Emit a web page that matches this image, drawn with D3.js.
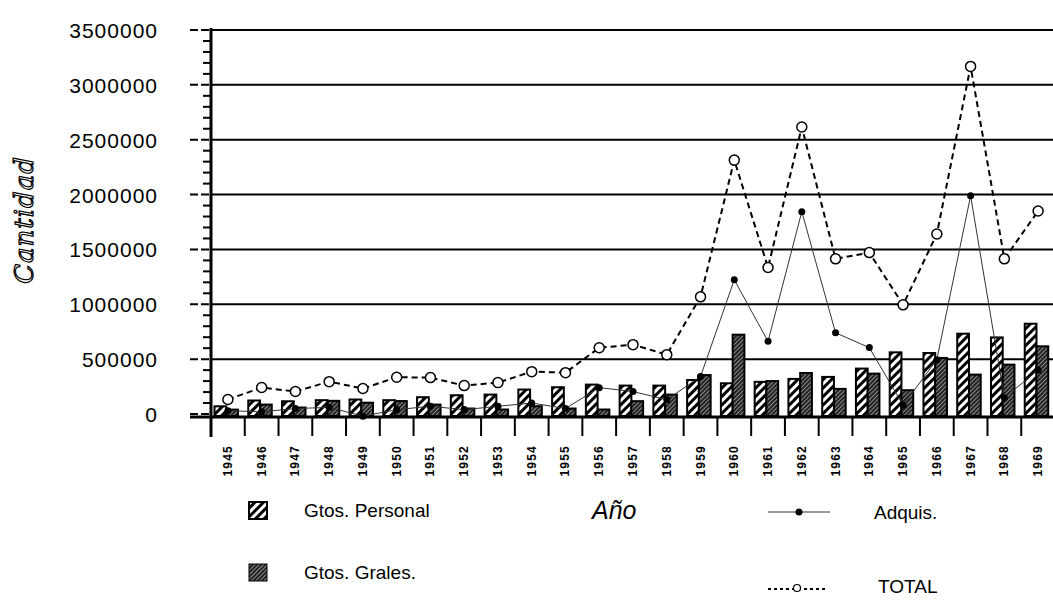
<!DOCTYPE html>
<meta charset="utf-8">
<style>
body { margin: 0; background: #fff; }
text { font-family: "Liberation Sans", Arial, sans-serif; fill: #000; }
.tick text { font-size: 21px; letter-spacing: 1px; }
</style>
<svg width="1053" height="604"></svg>
<script src="https://d3js.org/d3.v7.min.js"></script>
<script>

var years = ["1945","1946","1947","1948","1949","1950","1951","1952","1953","1954","1955","1956","1957",
  "1958","1959","1960","1961","1962","1963","1964","1965","1966","1967","1968","1969"];

var personal = [70000,123000,116000,126000,132000,126000,153000,171000,177000,223000,244000,268000,259000,
  259000,310000,280000,293000,320000,338000,414000,562000,556000,732000,698000,823000];

var grales = [40000,86000,59000,120000,103000,118000,86000,50000,41000,71000,50000,41000,117000,
  177000,355000,723000,300000,374000,229000,368000,217000,511000,359000,450000,617000];

var adquis = [30000,20000,50000,60000,-20000,40000,70000,40000,70000,100000,50000,240000,205000,
  130000,341000,1223000,662000,1844000,740000,605000,80000,495000,1989000,148000,400000];

var total = [132000,241000,205000,295000,232000,335000,332000,259000,286000,386000,377000,604000,632000,
  541000,1068000,2314000,1335000,2616000,1414000,1471000,995000,1641000,3168000,1414000,1850000];

var yTicks = [0,500000,1000000,1500000,2000000,2500000,3000000,3500000];

var svg = d3.select("svg");

var x = d3.scaleBand().domain(years).range([211, 1055]);
var y = d3.scaleLinear().domain([0, 3500000]).range([414, 30]);
var xSub = d3.scaleBand().domain(["p","g"]).range([3.5, 27]);

var defs = svg.append("defs");
var hatch = defs.append("pattern")
    .attr("id", "hatch")
    .attr("patternUnits", "userSpaceOnUse")
    .attr("width", 6).attr("height", 6)
    .attr("patternTransform", "rotate(45)");
hatch.append("rect").attr("width", 6).attr("height", 6).attr("fill", "#fff");
hatch.append("rect").attr("width", 3).attr("height", 6).attr("fill", "#000");

var dark = defs.append("pattern")
    .attr("id", "dark")
    .attr("patternUnits", "userSpaceOnUse")
    .attr("width", 3).attr("height", 3)
    .attr("patternTransform", "rotate(45)");
dark.append("rect").attr("width", 3).attr("height", 3).attr("fill", "#222");
dark.append("rect").attr("width", 1).attr("height", 3).attr("fill", "#8a8a8a");

// grid lines
svg.append("g")
  .selectAll("line")
  .data(yTicks.filter(function(d) { return d > 0; }))
  .enter().append("line")
    .attr("x1", 211).attr("x2", 1053)
    .attr("y1", function(d) { return y(d); })
    .attr("y2", function(d) { return y(d); })
    .attr("stroke", "#000")
    .attr("stroke-width", 2);

// minor ticks on y axis
svg.append("g")
  .selectAll("line")
  .data(d3.range(0, 3500001, 100000))
  .enter().append("line")
    .attr("x1", function(d) { return d % 500000 == 0 ? 190 : 203; })
    .attr("x2", 211)
    .attr("y1", function(d) { return y(d); })
    .attr("y2", function(d) { return y(d); })
    .attr("stroke", "#000")
    .attr("stroke-width", 2)
    .attr("stroke-dasharray", function(d) { return d % 500000 == 0 ? "8,3" : null; });

var yAxis = svg.append("g")
    .attr("transform", "translate(158,0)")
    .call(d3.axisLeft(y).tickValues(yTicks).tickSize(0).tickPadding(0).tickFormat(d3.format("d")));
yAxis.select(".domain").remove();
yAxis.selectAll("text").attr("dy", "0.36em");

// bars
var groups = svg.append("g")
  .selectAll("g")
  .data(years)
  .enter().append("g")
    .attr("transform", function(d) { return "translate(" + x(d) + ",0)"; });

groups.append("rect")
    .attr("x", xSub("p"))
    .attr("width", xSub.bandwidth())
    .attr("y", function(d, i) { return y(personal[i]); })
    .attr("height", function(d, i) { return y(0) - y(personal[i]) + 2; })
    .attr("fill", "url(#hatch)")
    .attr("stroke", "#000")
    .attr("stroke-width", 2);

groups.append("rect")
    .attr("x", xSub("g"))
    .attr("width", xSub.bandwidth())
    .attr("y", function(d, i) { return y(grales[i]); })
    .attr("height", function(d, i) { return y(0) - y(grales[i]) + 2; })
    .attr("fill", "url(#dark)")
    .attr("stroke", "#000")
    .attr("stroke-width", 2);

// axes lines
svg.append("line")
    .attr("x1", 211).attr("x2", 211).attr("y1", 28).attr("y2", 437)
    .attr("stroke", "#000").attr("stroke-width", 3);
svg.append("line")
    .attr("x1", 190).attr("x2", 1053).attr("y1", 417).attr("y2", 417)
    .attr("stroke", "#000").attr("stroke-width", 3);

svg.append("g")
  .selectAll("line")
  .data(years.slice(1))
  .enter().append("line")
    .attr("x1", function(d) { return x(d); })
    .attr("x2", function(d) { return x(d); })
    .attr("y1", 417).attr("y2", 436)
    .attr("stroke", "#000").attr("stroke-width", 2);

svg.append("g")
  .selectAll("text")
  .data(years)
  .enter().append("text")
    .attr("transform", function(d) { return "translate(" + (x(d) + x.bandwidth() / 2 + 4) + ",445) rotate(-90)"; })
    .attr("text-anchor", "end")
    .style("font-size", "12px")
    .style("font-weight", "bold")
    .style("letter-spacing", "1.2px")
    .text(function(d) { return d; });

// lines
var cx = function(i) { return x(years[i]) + x.bandwidth() / 2; };

var adqLine = d3.line().x(function(d, i) { return cx(i); }).y(function(d) { return y(d); });
svg.append("path")
    .attr("d", adqLine(adquis))
    .attr("fill", "none")
    .attr("stroke", "#333")
    .attr("stroke-width", 1);
svg.append("g")
  .selectAll("circle")
  .data(adquis)
  .enter().append("circle")
    .attr("cx", function(d, i) { return cx(i); })
    .attr("cy", function(d) { return y(d); })
    .attr("r", 3.5)
    .attr("fill", "#000");

svg.append("path")
    .attr("d", adqLine(total))
    .attr("fill", "none")
    .attr("stroke", "#000")
    .attr("stroke-width", 2)
    .attr("stroke-dasharray", "6,4");
svg.append("g")
  .selectAll("circle")
  .data(total)
  .enter().append("circle")
    .attr("cx", function(d, i) { return cx(i); })
    .attr("cy", function(d) { return y(d); })
    .attr("r", 5)
    .attr("fill", "#fff")
    .attr("stroke", "#000")
    .attr("stroke-width", 1.5);

// axis titles
svg.append("text")
    .attr("transform", "translate(33,220) rotate(-90)")
    .attr("text-anchor", "middle")
    .style("font-family", "'DejaVu Serif', serif")
    .style("font-style", "italic")
    .style("font-size", "26px")
    .style("letter-spacing", "1px")
    .style("fill", "#fff")
    .style("stroke", "#000")
    .style("stroke-width", "1.2px")
    .text("Cantidad");

svg.append("text")
    .attr("x", 592).attr("y", 519)
    .style("font-style", "italic")
    .style("font-size", "25px")
    .text("Año");

// legend
var legend = svg.append("g");
legend.append("rect").attr("x", 249).attr("y", 502).attr("width", 18).attr("height", 17)
    .attr("fill", "url(#hatch)").attr("stroke", "#000").attr("stroke-width", 2);
legend.append("rect").attr("x", 249).attr("y", 564).attr("width", 18).attr("height", 17)
    .attr("fill", "url(#dark)").attr("stroke", "#000").attr("stroke-width", 1);
legend.append("text").attr("x", 304).attr("y", 517).style("font-size", "19px").text("Gtos. Personal");
legend.append("text").attr("x", 304).attr("y", 579).style("font-size", "19px").text("Gtos. Grales.");

legend.append("line").attr("x1", 768).attr("x2", 830).attr("y1", 512).attr("y2", 512)
    .attr("stroke", "#333").attr("stroke-width", 1);
legend.append("circle").attr("cx", 799).attr("cy", 512).attr("r", 3.5).attr("fill", "#000");
legend.append("text").attr("x", 874).attr("y", 519).style("font-size", "19px").text("Adquis.");

legend.append("line").attr("x1", 768).attr("x2", 828).attr("y1", 589).attr("y2", 589)
    .attr("stroke", "#000").attr("stroke-width", 2).attr("stroke-dasharray", "3,3");
legend.append("circle").attr("cx", 797).attr("cy", 588).attr("r", 3.5)
    .attr("fill", "#fff").attr("stroke", "#000").attr("stroke-width", 1.2);
legend.append("text").attr("x", 878).attr("y", 593).style("font-size", "19px").text("TOTAL");

</script>
